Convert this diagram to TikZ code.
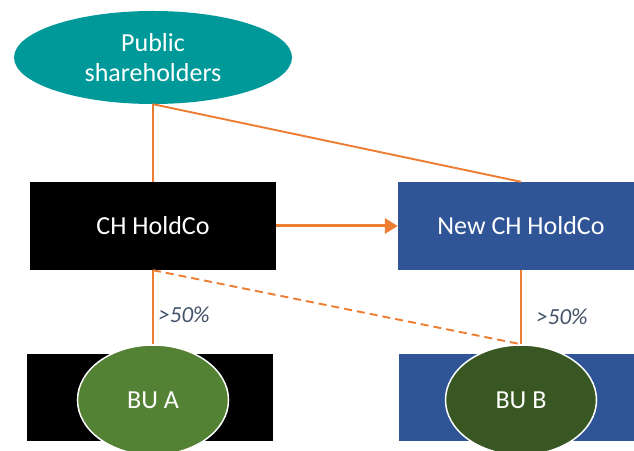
\documentclass[tikz,border=0pt]{standalone}
\usepackage{fontspec}
\setmainfont{Carlito}
\usetikzlibrary{shapes.geometric,arrows.meta}
\definecolor{teal1}{RGB}{0,153,153}
\definecolor{blue1}{RGB}{47,85,151}
\definecolor{greenA}{RGB}{84,130,53}
\definecolor{greenB}{RGB}{56,87,35}
\definecolor{orange1}{RGB}{237,125,49}
\definecolor{labgray}{RGB}{68,84,106}
\begin{document}
\begin{tikzpicture}[x=1pt,y=1pt,
  box/.style={rectangle,minimum width=246pt,minimum height=88pt,inner sep=0pt,text=white,font=\fontsize{26}{30}\selectfont},
  oval/.style={ellipse,draw=white,line width=1.5pt,inner sep=0pt,minimum width=151pt,minimum height=110pt,text=white,font=\fontsize{26}{30}\selectfont},
  link/.style={draw=orange1,line width=1.9pt},
  pct/.style={text=labgray,font=\fontsize{23}{26}\selectfont\itshape,inner sep=0pt}]
\clip (0,0) rectangle (634,450);
\fill[white] (0,0) rectangle (634,450);
% top
\node[ellipse,fill=teal1,inner sep=0pt,minimum width=278pt,minimum height=93pt,text=white,align=center,font=\fontsize{26}{30}\selectfont] (pub) at (153,392.5) {Public\\shareholders};
\node[box,fill=black] (ch) at (153,224) {CH HoldCo};
\node[box,fill=blue1] (new) at (521,224) {New CH HoldCo};
% bottom
\node[box,fill=black,minimum height=87pt] (rA) at (150,52.5) {};
\node[box,fill=blue1,minimum height=87pt] (rB) at (522,52.5) {};
\node[oval,fill=greenA] (ea) at (153,50) {BU A};
\node[oval,fill=greenB] (eb) at (521,50) {BU B};
% connectors
\draw[link] (pub.south) -- (ch.north);
\draw[link] (pub.south) -- (new.north);
\draw[link,line width=3pt,-{Triangle[length=13pt,width=15pt]}] (ch.east) -- (new.west);
\draw[link] (ch.south) -- (ea.north);
\draw[link,dash pattern=on 8pt off 5pt] (ch.south) -- (eb.north);
\draw[link] (new.south) -- (eb.north);
% labels
\node[pct] (pa) at (184,135) {>50\%};
\node[pct] (pb) at (562,133) {>50\%};
\end{tikzpicture}
\end{document}
